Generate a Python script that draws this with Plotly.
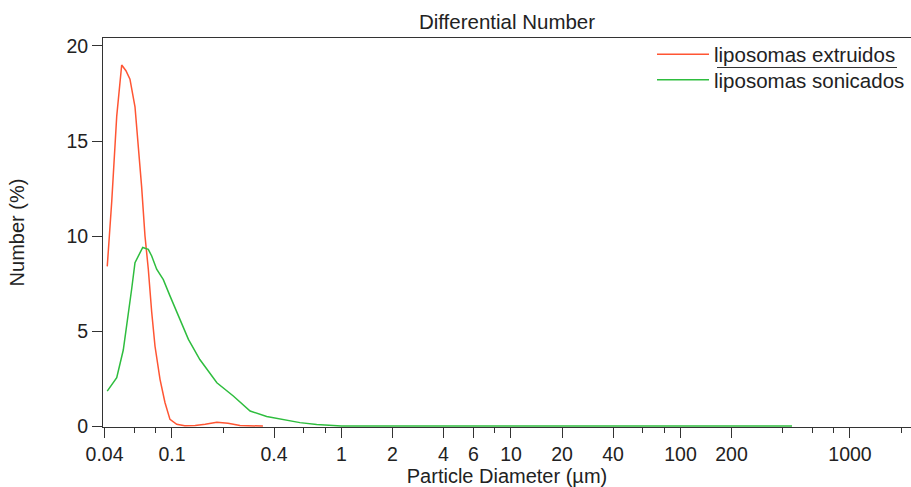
import plotly.graph_objects as go

# Particle diameter (µm) and differential number (%)
ext_d = [0.0415, 0.0441, 0.0472, 0.0505, 0.0535, 0.0565, 0.0605, 0.0633, 0.0662,
         0.0693, 0.0725, 0.0759, 0.0794, 0.0850, 0.0909, 0.0973, 0.1066, 0.119,
         0.137, 0.157, 0.184, 0.214, 0.252, 0.344]
ext_n = [8.4, 11.8, 16.3, 19.0, 18.7, 18.25, 16.8, 14.7, 12.6,
         10.0, 8.25, 6.0, 4.2, 2.46, 1.24, 0.35, 0.09, 0.02,
         0.03, 0.1, 0.2, 0.15, 0.03, 0.0]

son_d = [0.0415, 0.0472, 0.0516, 0.0552, 0.0578, 0.0605, 0.0633, 0.0672, 0.0725,
         0.0759, 0.0812, 0.0889, 0.0973, 0.109, 0.125, 0.146, 0.184, 0.230,
         0.289, 0.362, 0.454, 0.569, 0.714, 1.0, 10.0, 100.0, 455.0]
son_n = [1.84, 2.55, 4.0, 5.8, 7.2, 8.6, 8.95, 9.4, 9.3,
         8.95, 8.25, 7.7, 6.85, 5.8, 4.56, 3.5, 2.28, 1.58,
         0.79, 0.5, 0.35, 0.18, 0.08, 0.0, 0.0, 0.0, 0.0]

series_names = ["liposomas extruidos", "liposomas sonicados"]

x_major = [0.04, 0.1, 0.4, 1, 2, 4, 6, 10, 20, 40, 100, 200, 1000]
x_major_text = ["0.04", "0.1", "0.4", "1", "2", "4", "6", "10", "20", "40", "100", "200", "1000"]
x_minor = [0.06, 0.08, 0.2, 0.6, 0.8, 8, 60, 80, 400, 600, 800, 2000]
y_ticks = [0, 5, 10, 15, 20]

FONT = "Liberation Sans, Arial, sans-serif"
AX = "#333333"
TXT = "#222222"
W, H = 911, 487
L, R, T, B = 103, 0, 38, 60

fig = go.Figure()
fig.add_trace(go.Scatter(x=ext_d, y=ext_n, mode="lines", name=series_names[0],
                         legend="legend",
                         line=dict(color="#ff5533", width=1.5)))
fig.add_trace(go.Scatter(x=son_d, y=son_n, mode="lines", name=series_names[1],
                         legend="legend2",
                         line=dict(color="#2ebd3e", width=1.5)))

pw = W - L - R
ph = H - T - B
def px_x(px):
    return (px - L) / pw
def px_y(py):
    return 1 - (py - T) / ph

leg_common = dict(xanchor="left", yanchor="middle", bgcolor="rgba(0,0,0,0)",
                  borderwidth=0, itemwidth=52, font=dict(size=20.5, color=TXT))

fig.update_layout(
    width=W, height=H,
    margin=dict(l=L, r=R, t=T, b=B, pad=0),
    paper_bgcolor="white", plot_bgcolor="white",
    font=dict(family=FONT, size=19.5, color=TXT),
    title=dict(text="Differential Number", x=px_x(507), xanchor="center",
               xref="paper", y=1 - 22 / H, yref="container", yanchor="middle",
               font=dict(size=20.5, color=TXT)),
    showlegend=True,
    legend=dict(x=px_x(652), y=px_y(54.5), **leg_common),
    legend2=dict(x=px_x(652), y=px_y(80), **leg_common),
    xaxis=dict(type="log", range=[-1.407, 3.36], showgrid=False, zeroline=False,
               showline=True, linecolor=AX, linewidth=1, mirror=True,
               tickmode="array", tickvals=x_major, ticktext=x_major_text,
               ticks="outside", ticklen=10, tickcolor=AX, tickwidth=1,
               minor=dict(tickmode="array", tickvals=x_minor, ticks="outside",
                          ticklen=5, tickcolor=AX, tickwidth=1, showgrid=False),
               title=dict(text="Particle Diameter (µm)", standoff=6,
                          font=dict(size=20, color=TXT)),
               layer="below traces"),
    yaxis=dict(range=[-0.05, 20.42], showgrid=False, zeroline=False,
               showline=True, linecolor=AX, linewidth=1,
               tickmode="array", tickvals=y_ticks,
               ticks="outside", ticklen=10, tickcolor=AX, tickwidth=1,
               title=dict(text="Number (%)", standoff=36,
                          font=dict(size=20, color=TXT)),
               layer="below traces"),
    shapes=[dict(type="line", xref="paper", yref="paper",
                 x0=px_x(717), x1=px_x(897), y0=px_y(67.5), y1=px_y(67.5),
                 line=dict(color="#333333", width=1))],
)

fig.write_html("out.html", config={"displayModeBar": False},
               post_script="document.body.style.margin='0';document.body.style.overflow='hidden';")
